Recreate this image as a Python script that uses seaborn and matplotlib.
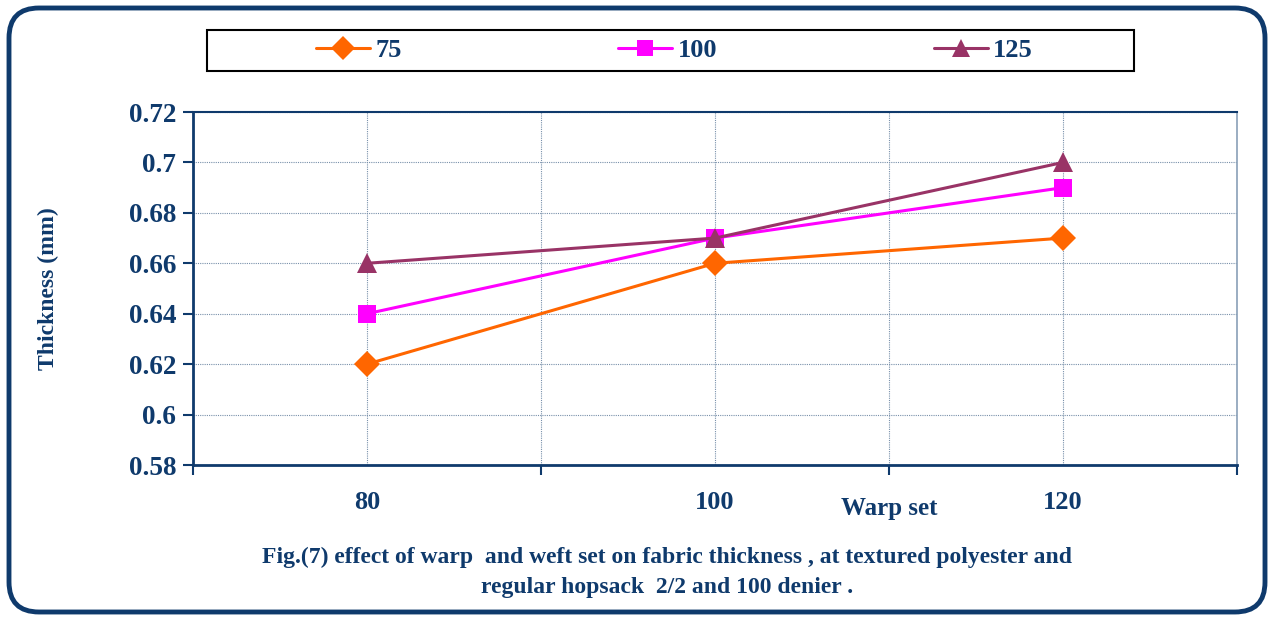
import matplotlib
matplotlib.use("Agg")
import matplotlib.pyplot as plt
import seaborn as sns
import pandas as pd
from matplotlib.patches import FancyBboxPatch, Rectangle
from matplotlib.ticker import FixedLocator

warp_set = ["80", "100", "120"]
weft_sets = ["75", "100", "125"]
thick_75 = [0.62, 0.66, 0.67]
thick_100 = [0.64, 0.67, 0.69]
thick_125 = [0.66, 0.67, 0.70]
y_ticks = [0.58, 0.60, 0.62, 0.64, 0.66, 0.68, 0.70, 0.72]
y_tick_labels = ["0.58", "0.6", "0.62", "0.64", "0.66", "0.68", "0.7", "0.72"]

rows = []
for name, vals in zip(weft_sets, [thick_75, thick_100, thick_125]):
    for w, v in zip(warp_set, vals):
        rows.append({"Warp set": w, "Thickness": v, "Weft": name})
df = pd.DataFrame(rows)

sns.set_theme(style="white")
plt.rcParams['font.family'] = ['Liberation Serif', 'DejaVu Serif']
plt.rcParams['font.weight'] = 'bold'

NAVY = "#0f3a6c"
palette = {"75": "#FF6600", "100": "#FF00FF", "125": "#993366"}
markers = {"75": "D", "100": "s", "125": "^"}
msizes = {"75": 13.5, "100": 13, "125": 14.5}
leg_msizes = {"75": 12, "100": 11.5, "125": 13}

fig = plt.figure(figsize=(12.71, 6.19), dpi=100)
ax = fig.add_axes([193/1271, 1-465/619, (1237-193)/1271, (465-112)/619])

sns.lineplot(data=df, x="Warp set", y="Thickness", hue="Weft", style="Weft",
             palette=palette, markers=markers, dashes=False, sort=False,
             linewidth=2.2, markersize=12, markeredgewidth=0, ax=ax)

for line, name in zip(ax.get_lines(), weft_sets):
    line.set_markersize(msizes[name])

handles, labels = ax.get_legend_handles_labels()
for h, l in zip(handles, labels):
    if l in leg_msizes:
        h.set_markersize(leg_msizes[l])
if ax.get_legend() is not None:
    ax.get_legend().remove()

ax.set_xlim(-0.5, 2.5)
ax.set_ylim(0.58, 0.72)
ax.set_yticks(y_ticks)
ax.set_yticklabels(y_tick_labels)
ax.xaxis.set_minor_locator(FixedLocator([-0.5, 0.5, 1.5, 2.5]))
ax.tick_params(axis='x', which='major', length=0, pad=19, labelsize=19, labelcolor=NAVY)
ax.tick_params(axis='x', which='minor', length=7, width=1.5, color=NAVY, direction='out', bottom=True)
ax.tick_params(axis='y', length=7, width=1.5, color=NAVY, direction='out', left=True,
               labelsize=19.5, labelcolor=NAVY, pad=5)
for lab in ax.get_xticklabels() + ax.get_yticklabels():
    lab.set_fontweight('bold')

ax.grid(True, which='both', axis='x', color='#7890aa', linestyle=(0, (1, 1)), linewidth=0.8)
ax.grid(True, which='major', axis='y', color='#7890aa', linestyle=(0, (1, 1)), linewidth=0.8)
ax.set_axisbelow(True)

for side in ['left', 'bottom']:
    ax.spines[side].set_color(NAVY)
    ax.spines[side].set_linewidth(2)
ax.spines['top'].set_color(NAVY)
ax.spines['top'].set_linewidth(1.5)
ax.spines['right'].set_color('#8aa0b8')
ax.spines['right'].set_linewidth(1.2)

ax.set_xlabel("")
ax.set_ylabel("Thickness (mm)", color=NAVY, fontsize=17, fontweight='bold', labelpad=50)
ax.text((889-193)/1044, (465-508)/353, "Warp set", transform=ax.transAxes,
        ha='center', va='center', color=NAVY, fontsize=18, fontweight='bold')

fig.text(667/1271, 1-557/619,
         "Fig.(7) effect of warp  and weft set on fabric thickness , at textured polyester and",
         ha='center', va='center', color=NAVY, fontsize=17, fontweight='bold')
fig.text(667/1271, 1-588/619, "regular hopsack  2/2 and 100 denier .",
         ha='center', va='center', color=NAVY, fontsize=17, fontweight='bold')

# outer rounded frame
frame = FancyBboxPatch((0.09, 0.07), 12.56, 6.04, boxstyle="round,pad=0,rounding_size=0.3",
                       transform=fig.dpi_scale_trans, fill=False, edgecolor=NAVY,
                       linewidth=3.5, zorder=0)
fig.patches.append(frame)

# legend box
legbox = Rectangle((207/1271, 1-71/619), (1134-207)/1271, 41/619, transform=fig.transFigure,
                   fill=False, edgecolor='black', linewidth=1.5)
fig.patches.append(legbox)
leg = fig.legend(handles, labels, loc='center', bbox_to_anchor=(674.5/1271, 1-50.5/619),
                 ncol=3, frameon=False, fontsize=19, columnspacing=8.2,
                 handlelength=2.05, handletextpad=0.2)
for t in leg.get_texts():
    t.set_color(NAVY)
    t.set_fontweight('bold')

fig.savefig("out.png", dpi=100)
